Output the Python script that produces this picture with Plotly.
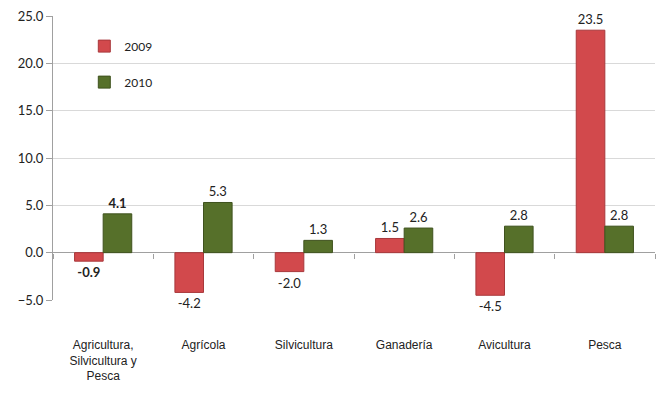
import plotly.graph_objects as go

categorias = ["Agricultura,<br>Silvicultura y<br>Pesca", "Agrícola", "Silvicultura",
              "Ganadería", "Avicultura", "Pesca"]
valores_2009 = [-0.9, -4.2, -2.0, 1.5, -4.5, 23.5]
valores_2010 = [4.1, 5.3, 1.3, 2.6, 2.8, 2.8]


def etiquetas(valores):
    # la primera categoría va en negrita, como en el original
    return [f"<b>{v:.1f}</b>" if i == 0 else f"{v:.1f}" for i, v in enumerate(valores)]


fig = go.Figure()
fig.add_trace(go.Bar(
    x=categorias, y=valores_2009, name="2009", legendgroup="a",
    marker=dict(color="#D2494C", line=dict(color="#A8383B", width=1)),
    text=etiquetas(valores_2009), textposition="outside",
    textfont=dict(family="Lato", size=13, color="#222222"),
    cliponaxis=False,
))
fig.add_trace(go.Bar(
    x=categorias, y=valores_2010, name="2010", legendgroup="b",
    marker=dict(color="#56702A", line=dict(color="#3F521E", width=1)),
    text=etiquetas(valores_2010), textposition="outside",
    textfont=dict(family="Lato", size=13, color="#222222"),
    cliponaxis=False,
))
# eje auxiliar para las marcas entre categorías sobre la línea del cero
fig.add_trace(go.Scatter(x=categorias, y=[0] * len(categorias), xaxis="x2",
                         mode="markers", marker=dict(opacity=0), showlegend=False,
                         hoverinfo="skip"))

fig.update_layout(
    width=658, height=400,
    margin=dict(l=53, r=3, t=16, b=100),
    plot_bgcolor="white", paper_bgcolor="white",
    barmode="group", bargap=0.43, bargroupgap=0,
    legend=dict(x=0.052, y=0.945, xanchor="left", yanchor="top",
                bgcolor="rgba(0,0,0,0)", traceorder="grouped", tracegroupgap=17,
                font=dict(family="Lato", size=12, color="#222222"),
                itemwidth=30),
    xaxis=dict(showline=False, ticks="", showgrid=False, range=[-0.5, 5.5],
               automargin=False,
               tickfont=dict(family="Liberation Sans", size=12, color="#222222"),
               ticklabelstandoff=36),
    xaxis2=dict(overlaying="x", anchor="free", position=1 / 6, range=[-0.5, 5.5],
                automargin=False,
                showline=False, showgrid=False, showticklabels=False,
                ticks="outside", tickson="boundaries", ticklen=5,
                tickcolor="#A0A0A0"),
    yaxis=dict(range=[-5, 25], dtick=5, tickformat=".1f", automargin=False,
               showline=True, linecolor="#A0A0A0", linewidth=1,
               ticks="outside", ticklen=6, tickcolor="#A0A0A0",
               gridcolor="#D9D9D9", zeroline=True, zerolinecolor="#A0A0A0",
               zerolinewidth=1,
               tickfont=dict(family="Lato", size=13, color="#222222")),
)

fig.write_html("out.html", config={"displayModeBar": False},
               post_script="document.body.style.margin='0';")
